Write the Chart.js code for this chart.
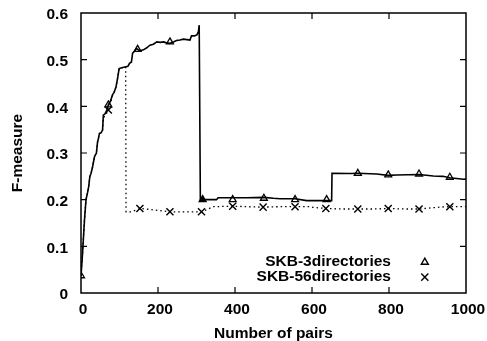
<!DOCTYPE html>
<html>
<head>
<meta charset="utf-8">
<script src="https://cdn.jsdelivr.net/npm/chart.js@4/dist/chart.umd.min.js"></script>
<style>
html,body{margin:0;padding:0;background:#fff;}
#c{display:block;}
</style>
</head>
<body>
<canvas id="c" width="487" height="341"></canvas>
<script>
// ---- Data ----
const seriesLabels = ["SKB-3directories", "SKB-56directories"];
const xTicks = [0, 200, 400, 600, 800, 1000];
const yTicks = [0, 0.1, 0.2, 0.3, 0.4, 0.5, 0.6];

// SKB-3directories (solid line)
const skb3X = [0,4,9,13,17,20,23,26,30,35,40,43,45,48,52,56,58,64,67,71,76,82,86,91,95,99,108,117,122,126,131,134,139,144,147,153,162,170,179,188,197,206,214,222,231,240,248,257,266,275,283,287,295,301,305,307,309,310,330,352,356,394,430,475,500,517,556,586,620,638,651,652,700,719,768,798,820,878,915,940,958,993,1000];
const skb3Y = [0.037,0.085,0.156,0.2,0.215,0.228,0.25,0.256,0.27,0.292,0.3,0.324,0.33,0.342,0.343,0.349,0.381,0.385,0.392,0.403,0.41,0.425,0.43,0.442,0.46,0.481,0.483,0.485,0.486,0.492,0.495,0.514,0.518,0.524,0.522,0.519,0.521,0.525,0.531,0.533,0.538,0.537,0.538,0.536,0.535,0.538,0.541,0.542,0.544,0.543,0.542,0.551,0.551,0.553,0.56,0.574,0.574,0.2,0.2,0.2,0.204,0.204,0.204,0.205,0.203,0.202,0.202,0.198,0.198,0.198,0.198,0.2565,0.256,0.2565,0.255,0.252,0.253,0.254,0.2507,0.25,0.247,0.2436,0.244];
const skb3MarkX = [0,71,147,231,316,394,475,556,638,719,798,878,958];
const skb3MarkY = [0.037,0.403,0.522,0.538,0.2,0.2,0.203,0.2,0.2,0.2565,0.253,0.255,0.248];

// SKB-56directories (dotted line)
const skb56X = [0,4,9,13,17,20,23,26,30,35,40,43,45,48,52,56,58,64,67,71,76,82,86,91,95,99,108,116,117,130,145,153,170,188,210,231,275,313,330,344,394,430,473,517,556,595,603,636,680,719,760,798,840,878,932,958,1000];
const skb56Y = [0.037,0.085,0.156,0.2,0.215,0.228,0.25,0.256,0.27,0.292,0.3,0.324,0.33,0.342,0.343,0.349,0.375,0.382,0.386,0.392,0.405,0.423,0.43,0.442,0.46,0.481,0.483,0.485,0.174,0.174,0.178,0.181,0.18,0.178,0.176,0.174,0.174,0.174,0.18,0.185,0.186,0.185,0.184,0.185,0.185,0.185,0.1836,0.181,0.18,0.18,0.18,0.181,0.18,0.18,0.184,0.185,0.185];
const skb56MarkX = [71,153,231,313,394,473,556,636,719,798,878,958];
const skb56MarkY = [0.392,0.181,0.174,0.174,0.186,0.184,0.185,0.181,0.18,0.181,0.18,0.185];

// ---- Build chart ----
const FONT = '"Liberation Sans", Arial, Helvetica, sans-serif';
const pts = (xs, ys) => xs.map((x, i) => ({x: x, y: ys[i]}));

const frameTicks = {
  id: 'frameTicks',
  afterDatasetsDraw(chart) {
    const {ctx, chartArea: a, scales} = chart;
    ctx.save();
    ctx.strokeStyle = '#000';
    ctx.lineWidth = 1.5;
    ctx.strokeRect(a.left, a.top, a.right - a.left, a.bottom - a.top);
    ctx.lineWidth = 1.2;
    const L = 6;
    xTicks.forEach(v => {
      const p = scales.x.getPixelForValue(v);
      if (p <= a.left + 1 || p >= a.right - 1) return;
      ctx.beginPath();
      ctx.moveTo(p, a.bottom); ctx.lineTo(p, a.bottom - L);
      ctx.moveTo(p, a.top); ctx.lineTo(p, a.top + L);
      ctx.stroke();
    });
    yTicks.forEach(v => {
      const p = scales.y.getPixelForValue(v);
      if (p <= a.top + 1 || p >= a.bottom - 1) return;
      ctx.beginPath();
      ctx.moveTo(a.left, p); ctx.lineTo(a.left + L, p);
      ctx.moveTo(a.right, p); ctx.lineTo(a.right - L, p);
      ctx.stroke();
    });
    ctx.restore();
  }
};

const insideLegend = {
  id: 'insideLegend',
  afterDraw(chart) {
    const {ctx} = chart;
    const xs = chart.scales.x, ys = chart.scales.y;
    const textRight = xs.getPixelForValue(805);
    const markX = xs.getPixelForValue(893);
    const rows = [
      {label: seriesLabels[0], y: ys.getPixelForValue(0.066), style: 'triangle', r: 4},
      {label: seriesLabels[1], y: ys.getPixelForValue(0.034), style: 'crossRot', r: 5}
    ];
    ctx.save();
    ctx.font = 'bold 15.5px ' + FONT;
    ctx.textAlign = 'right';
    ctx.textBaseline = 'middle';
    rows.forEach(r => {
      ctx.fillStyle = '#000';
      ctx.fillText(r.label, textRight, r.y);
      ctx.strokeStyle = '#000';
      ctx.fillStyle = 'rgba(0,0,0,0)';
      ctx.lineWidth = 1.4;
      Chart.helpers.drawPoint(ctx, {pointStyle: r.style, radius: r.r, rotation: 0, borderWidth: 1.4}, markX, r.y);
    });
    ctx.restore();
  }
};

new Chart(document.getElementById('c'), {
  type: 'scatter',
  data: {
    datasets: [
      {
        label: seriesLabels[0] + ' markers',
        data: pts(skb3MarkX, skb3MarkY),
        showLine: false,
        pointStyle: 'triangle',
        pointRadius: 4,
        pointBorderWidth: 1.3,
        pointBorderColor: '#000',
        pointBackgroundColor: skb3MarkX.map((x, i) => i === 4 ? '#000' : 'rgba(255,255,255,0)'),
        order: 0
      },
      {
        label: seriesLabels[1] + ' markers',
        data: pts(skb56MarkX, skb56MarkY),
        showLine: false,
        pointStyle: 'crossRot',
        pointRadius: 5,
        pointBorderWidth: 1.4,
        pointBorderColor: '#000',
        order: 0
      },
      {
        label: seriesLabels[0],
        data: pts(skb3X, skb3Y),
        showLine: true,
        borderColor: '#000',
        borderWidth: 1.6,
        pointRadius: 0,
        tension: 0,
        order: 2
      },
      {
        label: seriesLabels[1],
        data: pts(skb56X, skb56Y),
        showLine: true,
        borderColor: '#000',
        borderWidth: 1.3,
        borderDash: [1.5, 3],
        pointRadius: 0,
        tension: 0,
        order: 1
      }
    ]
  },
  options: {
    responsive: false,
    devicePixelRatio: 1,
    animation: false,
    layout: {padding: {left: 0, top: 13, right: 21, bottom: 0}},
    plugins: {legend: {display: false}, tooltip: {enabled: false}},
    scales: {
      x: {
        type: 'linear',
        min: 0, max: 1000,
        afterFit: s => { s.height = 48; s.paddingLeft = 0; s.paddingRight = 0; },
        afterBuildTicks: s => { s.ticks = xTicks.map(v => ({value: v})); },
        grid: {display: false, drawTicks: false},
        border: {display: false},
        ticks: {color: '#000', padding: 7, labelOffset: 2, font: {family: FONT, size: 15.5, weight: 'bold'}, callback: v => String(v)},
        title: {display: true, text: 'Number of pairs', color: '#000', padding: {top: 0, bottom: -2}, font: {family: FONT, size: 15.5, weight: 'bold'}}
      },
      y: {
        type: 'linear',
        min: 0, max: 0.6,
        afterFit: s => { s.width = 81; s.paddingTop = 0; s.paddingBottom = 0; },
        afterBuildTicks: s => { s.ticks = yTicks.map(v => ({value: v})); },
        grid: {display: false, drawTicks: false},
        border: {display: false},
        ticks: {color: '#000', padding: 13, labelOffset: 2, font: {family: FONT, size: 15.5, weight: 'bold'}, callback: v => String(Math.round(v * 10) / 10)},
        title: {display: true, text: 'F-measure', color: '#000', padding: {top: 8, bottom: 0}, font: {family: FONT, size: 15.5, weight: 'bold'}}
      }
    }
  },
  plugins: [frameTicks, insideLegend]
});
</script>
</body>
</html>
